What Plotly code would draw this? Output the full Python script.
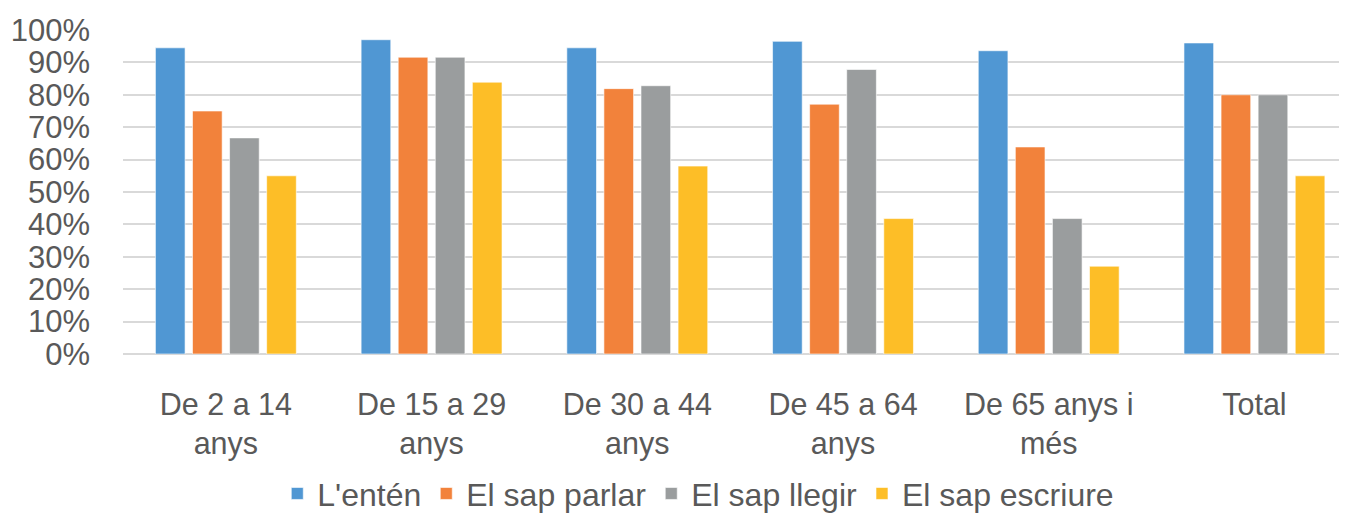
import plotly.graph_objects as go

categories = ["De 2 a 14<br>anys", "De 15 a 29<br>anys", "De 30 a 44<br>anys",
              "De 45 a 64<br>anys", "De 65 anys i<br>més", "Total"]
series_names = ["L'entén", "El sap parlar", "El sap llegir", "El sap escriure"]
enten = [0.945, 0.970, 0.945, 0.965, 0.936, 0.960]
parlar = [0.750, 0.916, 0.819, 0.771, 0.639, 0.800]
llegir = [0.667, 0.916, 0.828, 0.878, 0.418, 0.800]
escriure = [0.550, 0.839, 0.580, 0.418, 0.271, 0.550]
colors = ["#5097d3", "#f2823b", "#9a9d9e", "#fdbe27"]
yticks = [i / 10 for i in range(11)]

fig = go.Figure()
for name, vals, col in zip(series_names, [enten, parlar, llegir, escriure], colors):
    fig.add_trace(go.Bar(
        x=categories, y=vals, name=name,
        marker=dict(color=col, line=dict(color="rgba(255,255,255,0.6)", width=1)),
    ))

font_family = "Liberation Sans, Arial, sans-serif"
fig.update_layout(
    width=1347, height=513,
    barmode="group", bargap=0.279, bargroupgap=0.2,
    plot_bgcolor="white", paper_bgcolor="white",
    margin=dict(l=115, r=8, t=22, b=167, autoexpand=False),
    font=dict(family=font_family, size=30, color="#595959"),
    xaxis=dict(range=[-0.5, 5.45], showline=False, ticks="", tickfont=dict(size=30.5),
               automargin=False, ticklabelstandoff=29),
    yaxis=dict(range=[0, 1], tickvals=yticks, tickformat=".0%",
               showgrid=True, gridcolor="#d9d9d9", gridwidth=2,
               zeroline=True, zerolinecolor="#d9d9d9", zerolinewidth=2,
               ticks="", ticklabelstandoff=32, tickfont=dict(size=31),
               automargin=False),
    legend=dict(orientation="h", x=0.47, xanchor="center", y=-0.431, yanchor="middle",
                font=dict(size=32), itemwidth=30, tracegroupgap=0,
                itemclick=False),
    showlegend=True,
)

fig.write_html("out.html")
